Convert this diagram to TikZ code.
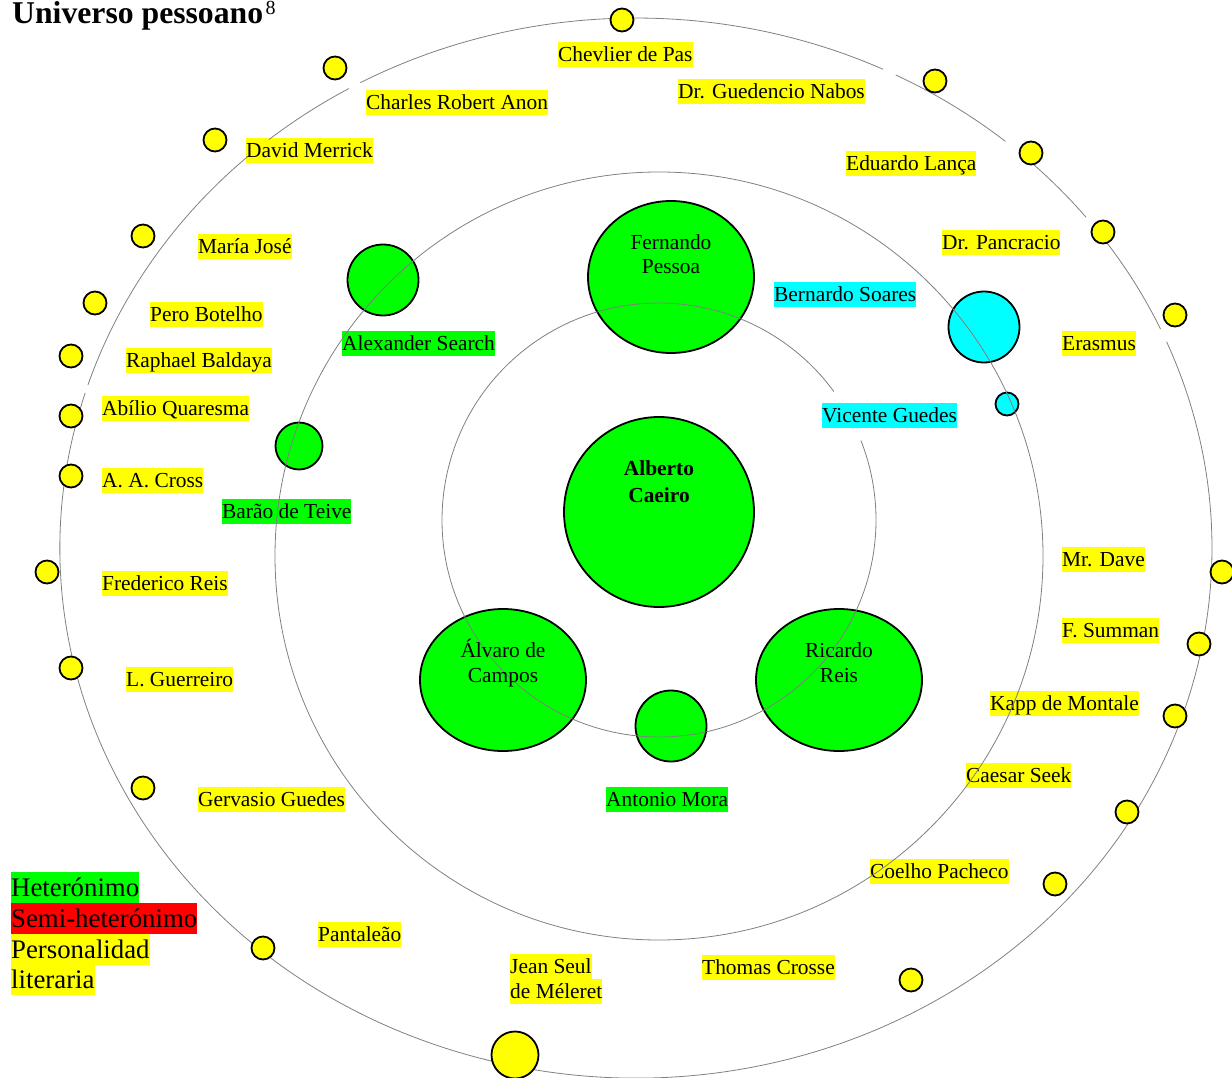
\documentclass[tikz,border=0pt]{standalone}
\usepackage{fontspec}
\setmainfont{Liberation Serif}
\usetikzlibrary{shapes.geometric}
\definecolor{grn}{HTML}{00FF00}
\definecolor{yel}{HTML}{FFFF00}
\definecolor{cyn}{HTML}{00FFFF}
\definecolor{rd}{HTML}{FF0000}
\definecolor{orb}{HTML}{808080}
\newcommand\lblfont{\fontsize{21.4pt}{24pt}\selectfont}
\newcommand\legfont{\fontsize{26.8pt}{31pt}\selectfont}
\begin{document}
\begin{tikzpicture}[x=1pt,y=-1pt,
 lbl/.style={anchor=west,inner xsep=0pt,inner ysep=0pt,text height=19.5pt,text depth=5.5pt,font=\lblfont},
 ylab/.style={lbl,fill=yel}, glab/.style={lbl,fill=grn}, clab/.style={lbl,fill=cyn},
 leg/.style={anchor=west,inner sep=0pt,text height=24.5pt,text depth=6.5pt,font=\legfont},
 planet/.style={draw=black,line width=1.8pt,inner sep=0pt},
 ball/.style={planet,circle},
 egg/.style={planet,ellipse},
 moon/.style={ball,fill=yel,minimum size=23pt},
 orbit/.style={draw=orb,line width=0.8pt},
 intext/.style={anchor=base,inner sep=0pt,font=\lblfont}
]
\useasboundingbox (0,0) rectangle (1232,1078);

% title
\node[anchor=base west,inner sep=0pt,font=\fontsize{31.7pt}{34pt}\selectfont\bfseries] (title) at (12,24) {Universo pessoano};
\node[anchor=base west,inner sep=0pt,font=\fontsize{20pt}{22pt}\selectfont] (fn) at (title.base east) [xshift=2pt,yshift=9pt] {8};

% big green / cyan bodies
\node[ball,fill=grn,minimum size=190pt] (caeiro) at (659,512) {};
\node[egg,fill=grn,minimum width=166pt,minimum height=152pt] (pessoa) at (671,277) {};
\node[egg,fill=grn,minimum width=166pt,minimum height=142pt] (campos) at (503,680) {};
\node[egg,fill=grn,minimum width=166pt,minimum height=142pt] (reis) at (839,680) {};
\node[ball,fill=grn,minimum size=71pt] (mora) at (671,726) {};
\node[ball,fill=grn,minimum size=71pt] (search) at (383,280) {};
\node[ball,fill=grn,minimum size=47pt] (teive) at (299,446) {};
\node[ball,fill=cyn,minimum size=71pt] (soares) at (984,327) {};
\node[ball,fill=cyn,minimum size=23pt] (guedes) at (1007,404) {};

% labels
\node[ylab] (l1) at (558,54.5) {Chevlier de Pas};
\node[ylab] (l2) at (366,102.5) {Charles Robert Anon};
\node[ylab] (l3) at (678,92) {Dr. Guedencio Nabos};
\node[ylab] (l4) at (246,151) {David Merrick};
\node[ylab] (l5) at (846,164) {Eduardo Lança};
\node[ylab] (l6) at (198,247) {María José};
\node[ylab] (l7) at (942,243) {Dr. Pancracio};
\node[ylab] (l8) at (150,314.5) {Pero Botelho};
\node[clab] (l9) at (774,294.5) {Bernardo Soares};
\node[glab] (l10) at (342,343) {Alexander Search};
\node[ylab] (l11) at (1062,343) {Erasmus};
\node[ylab] (l12) at (126,360.5) {Raphael Baldaya};
\node[ylab] (l13) at (102,408) {Abílio Quaresma};
\node[clab] (l14) at (822,415) {Vicente Guedes};
\node[ylab] (l15) at (102,480.5) {A. A. Cross};
\node[glab] (l16) at (222,511) {Barão de Teive};
\node[ylab] (l17) at (1062,559.5) {Mr. Dave};
\node[ylab] (l18) at (102,583) {Frederico Reis};
\node[ylab] (l19) at (1062,630.5) {F. Summan};
\node[ylab] (l20) at (126,679) {L. Guerreiro};
\node[ylab] (l21) at (990,703) {Kapp de Montale};
\node[ylab] (l22) at (966,775) {Caesar Seek};
\node[ylab] (l23) at (198,799) {Gervasio Guedes};
\node[glab] (l24) at (606,799) {Antonio Mora};
\node[ylab] (l25) at (870,871) {Coelho Pacheco};
\node[ylab] (l26) at (318,934) {Pantaleão};
\node[ylab] (l27a) at (510,966) {Jean Seul};
\node[ylab] (l27b) at (510,991) {de Méleret};
\node[ylab] (l28) at (702,967) {Thomas Crosse};

% legend
\node[leg,fill=grn] (leg1) at (11,887.5) {Heterónimo};
\node[leg,fill=rd] (leg2) at (11,918.5) {Semi-heterónimo};
\node[leg,fill=yel] (leg3) at (11,949) {Personalidad};
\node[leg,fill=yel] (leg4) at (11,979.5) {literaria};

% orbits
\draw[orbit] (659,520) ++(36.3:217pt) arc[start angle=36.3,end angle=381.5,radius=217pt];
\draw[orbit] (659,556) circle[radius=384pt];
\foreach \a/\b in {24.4/37.0,38.6/47.5,50.1/63.2,64.6/118.6,119.9/129.6,132.4/162.1,163.0/382.9}
  \draw[orbit] (636,548) ++(\a:576pt and 530pt) arc[start angle=\a,end angle=\b,x radius=576pt,y radius=530pt];

% yellow moons
\node[moon] (m1) at (622,20) {};
\node[moon] (m2) at (335,68) {};
\node[moon] (m3) at (215,140) {};
\node[moon] (m4) at (143,236) {};
\node[moon] (m5) at (95,303) {};
\node[moon] (m6) at (71,356) {};
\node[moon] (m7) at (71,416) {};
\node[moon] (m8) at (71,476) {};
\node[moon] (m9) at (47,572) {};
\node[moon] (m10) at (71,668) {};
\node[moon] (m11) at (143,788) {};
\node[moon] (m12) at (263,948) {};
\node[moon,minimum size=47pt] (m13) at (515,1055) {};
\node[moon] (m14) at (911,980) {};
\node[moon] (m15) at (1055,884) {};
\node[moon] (m16) at (1127,812) {};
\node[moon] (m17) at (1175,716) {};
\node[moon] (m18) at (1199,644) {};
\node[moon] (m19) at (1222,572) {};
\node[moon] (m20) at (1175,315) {};
\node[moon] (m21) at (1103,232) {};
\node[moon] (m22) at (1031,153) {};
\node[moon] (m23) at (935,81) {};

% texts inside bodies
\node[intext] (t1) at (671,250) {Fernando};
\node[intext] (t2) at (671,273) {Pessoa};
\node[intext,font=\lblfont\bfseries] (t3) at (659,475) {Alberto};
\node[intext,font=\lblfont\bfseries] (t4) at (659,502) {Caeiro};
\node[intext] (t5) at (503,657) {Álvaro de};
\node[intext] (t6) at (503,682) {Campos};
\node[intext] (t7) at (839,657) {Ricardo};
\node[intext] (t8) at (839,682) {Reis};
\end{tikzpicture}
\end{document}
